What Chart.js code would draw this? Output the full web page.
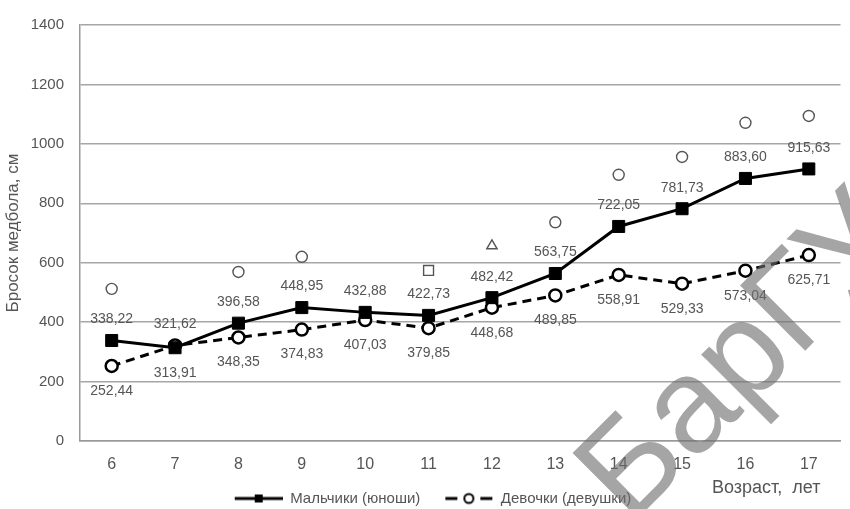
<!DOCTYPE html>
<html lang="ru">
<head>
<meta charset="UTF-8">
<title>Бросок медбола</title>
<script src="https://cdn.jsdelivr.net/npm/chart.js"></script>
<style>
  html, body { margin: 0; padding: 0; background: #fff; }
</style>
</head>
<body>
<canvas id="chart" width="850" height="509"></canvas>
<script>
// Age groups and results (throw distance, cm)
const ages = ['6', '7', '8', '9', '10', '11', '12', '13', '14', '15', '16', '17'];
const boys = [338.22, 313.91, 396.58, 448.95, 432.88, 422.73, 482.42, 563.75, 722.05, 781.73, 883.60, 915.63];
const girls = [252.44, 321.62, 348.35, 374.83, 407.03, 379.85, 448.68, 489.85, 558.91, 529.33, 573.04, 625.71];
// significance markers above the lines (no marker at 7 and 10)
const marks = [512, null, 569, 620, null, 574, 657, 736, 896, 956, 1071, 1094];
const yTicks = [0, 200, 400, 600, 800, 1000, 1200, 1400];

const FONT = '"Liberation Sans", Arial, sans-serif';
Chart.defaults.font.family = FONT;
Chart.defaults.color = '#555';

const fmt = v => v.toFixed(2).replace('.', ',');

// legend icons: line with marker (blank margin on the left spaces the items apart)
function legendIcon(dashed) {
    const c = document.createElement('canvas');
    c.width = 65; c.height = 14;
    const g = c.getContext('2d');
    g.strokeStyle = '#000';
    g.lineWidth = 3;
    if (dashed) {
        g.beginPath(); g.moveTo(17, 7); g.lineTo(29, 7); g.moveTo(52, 7); g.lineTo(64, 7); g.stroke();
        g.fillStyle = '#fff';
        g.lineWidth = 2;
        g.beginPath(); g.arc(40.5, 7, 4.5, 0, Math.PI * 2); g.fill(); g.stroke();
    } else {
        g.beginPath(); g.moveTo(17, 7); g.lineTo(65, 7); g.stroke();
        g.fillStyle = '#000';
        g.fillRect(37, 3, 8, 8);
    }
    return c;
}
const legendIcons = [legendIcon(false), legendIcon(true)];

const valueLabels = {
    id: 'valueLabels',
    afterDatasetsDraw(chart) {
        const ctx = chart.ctx;
        ctx.save();
        ctx.font = '14px ' + FONT;
        ctx.fillStyle = '#555';
        ctx.textAlign = 'center';
        ctx.textBaseline = 'middle';
        [boys, girls].forEach((series, d) => {
            const other = d === 0 ? girls : boys;
            chart.getDatasetMeta(d).data.forEach((pt, i) => {
                const above = series[i] >= other[i];
                ctx.fillText(fmt(series[i]), pt.x, pt.y + (above ? -21 : 25));
            });
        });
        ctx.restore();
    }
};

const extras = {
    id: 'extras',
    afterDraw(chart) {
        const ctx = chart.ctx;
        const area = chart.chartArea;
        ctx.save();
        // x axis title, right side
        ctx.font = '18px ' + FONT;
        ctx.fillStyle = '#555';
        ctx.textAlign = 'right';
        ctx.textBaseline = 'middle';
        ctx.fillText('Возраст,  лет', area.right - 20, area.bottom + 47);
        // watermark
        ctx.translate(630, 526);
        ctx.rotate(-Math.PI / 4);
        ctx.font = '134px ' + FONT;
        ctx.textAlign = 'left';
        ctx.textBaseline = 'alphabetic';
        ctx.fillStyle = 'rgba(110,110,110,0.62)';
        ctx.fillText('БарГУ', 0, 0);
        ctx.restore();
    }
};

new Chart(document.getElementById('chart'), {
    type: 'line',
    data: {
        labels: ages,
        datasets: [
            {
                label: 'Мальчики (юноши)',
                data: boys,
                borderColor: '#000',
                borderWidth: 3,
                pointStyle: 'rect',
                pointRadius: 8.5,
                pointBackgroundColor: '#000',
                pointBorderColor: '#000',
                pointBorderWidth: 1
            },
            {
                label: 'Девочки (девушки)',
                data: girls,
                borderColor: '#000',
                borderWidth: 3,
                borderDash: [9, 6],
                pointStyle: 'circle',
                pointRadius: 6,
                pointBackgroundColor: '#fff',
                pointBorderColor: '#000',
                pointBorderWidth: 2.5
            },
            {
                label: 'marks',
                data: marks,
                showLine: false,
                pointStyle: ['circle', 'circle', 'circle', 'circle', 'circle', 'rect', 'triangle',
                             'circle', 'circle', 'circle', 'circle', 'circle'],
                pointRadius: [5.5, 0, 5.5, 5.5, 0, 7, 6, 5.5, 5.5, 5.5, 5.5, 5.5],
                pointBackgroundColor: '#fff',
                pointBorderColor: '#555',
                pointBorderWidth: 1.4
            }
        ]
    },
    options: {
        responsive: false,
        animation: false,
        layout: { padding: { top: 19, right: 1, left: 0, bottom: -7 } },
        plugins: {
            tooltip: { enabled: false },
            legend: {
                position: 'bottom',
                labels: {
                    usePointStyle: true,
                    pointStyleWidth: 65,
                    padding: 8,
                    font: { size: 15 },
                    color: '#555',
                    generateLabels: chart => chart.data.datasets.slice(0, 2).map((ds, i) => ({
                        text: ds.label,
                        pointStyle: legendIcons[i],
                        fillStyle: 'transparent',
                        strokeStyle: 'transparent',
                        lineWidth: 0,
                        fontColor: '#555',
                        hidden: false,
                        datasetIndex: i
                    }))
                }
            }
        },
        scales: {
            x: {
                offset: true,
                grid: { display: false, drawTicks: false },
                border: { display: true, color: '#999', width: 1.5 },
                ticks: { padding: 14, font: { size: 16 }, color: '#555' },
                afterFit: s => { s.height = 42; }
            },
            y: {
                min: 0,
                max: 1400,
                afterBuildTicks: s => { s.ticks = yTicks.map(v => ({ value: v })); },
                grid: { color: '#a6a6a6', lineWidth: 1.5, drawTicks: false },
                border: { display: true, color: '#999', width: 1.5 },
                ticks: { padding: 16, font: { size: 15 }, color: '#555', callback: v => String(v) },
                title: {
                    display: true,
                    text: 'Бросок медбола, см',
                    font: { size: 17 },
                    color: '#555',
                    padding: { top: 3, bottom: 0 }
                },
                afterFit: s => { s.width = 80; }
            }
        }
    },
    plugins: [valueLabels, extras]
});
</script>
</body>
</html>
